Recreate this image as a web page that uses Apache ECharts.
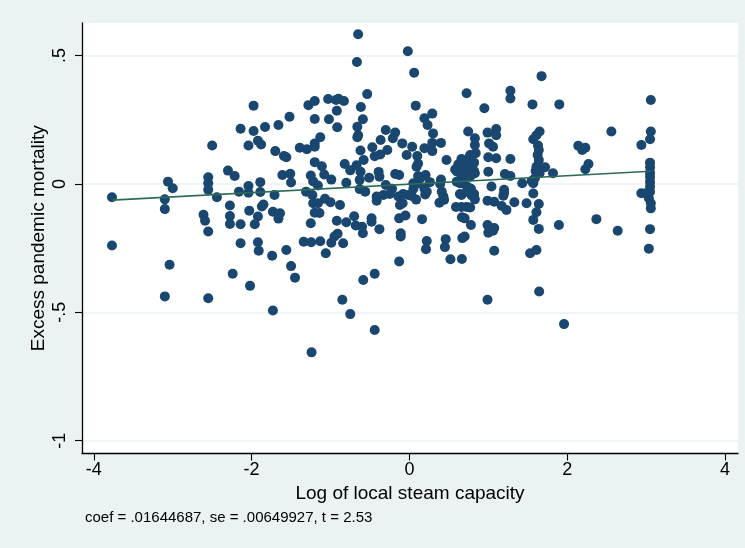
<!DOCTYPE html>
<html>
<head>
<meta charset="utf-8">
<title>Excess pandemic mortality and steam capacity</title>
<script src="https://cdn.jsdelivr.net/npm/echarts@6/dist/echarts.min.js"></script>
<style>
  html, body { margin: 0; padding: 0; background: #eaf2f3; }
  #chart { width: 745px; height: 548px; }
</style>
</head>
<body>
<div id="chart"></div>
<script>
  var obsLeft = [
    [-3.77,-0.052],[-3.77,-0.24],[-3.10,-0.06],[-3.10,-0.098],[-3.06,0.009],[-3.00,-0.017],[-3.04,-0.315],[-3.10,-0.438],
    [-2.55,0.026],[-2.55,0.003],[-2.55,-0.023],[-2.50,0.15],[-2.44,-0.052],[-2.61,-0.12],[-2.59,-0.143],[-2.55,-0.185],[-2.55,-0.445],
    [-2.30,0.052],[-2.215,0.031],[-2.275,-0.084],[-2.275,-0.125],[-2.275,-0.156],[-2.24,-0.35],
    [-2.14,0.215],[-1.975,0.305],[-1.975,0.206],[-1.83,0.222],[-1.66,0.23],[-2.04,0.15],[-1.92,0.168],[-1.88,0.154],[-1.70,0.128],
    [-2.04,-0.008],[-2.04,-0.034],[-1.89,0.007],[-1.89,-0.031],[-2.16,-0.03],[-1.71,-0.043],[-1.61,0.035],
    [-2.14,-0.157],[-2.03,-0.104],[-1.87,-0.088],[-1.85,-0.08],[-1.92,-0.127],[-1.96,-0.157],[-1.73,-0.108],[-1.64,-0.114],[-1.66,-0.135],
    [-2.14,-0.231],[-1.92,-0.227],[-1.91,-0.26],[-1.74,-0.28],[-2.02,-0.397],[-1.73,-0.493]
  ];
  var obsCentreLeft = [
    [-1.59,0.109],[-1.56,0.104],[-1.52,0.262],[-1.51,0.04],[-1.50,0.006],
    [-1.28,0.307],[-1.20,0.323],[-1.20,0.253],[-1.02,0.252],[-1.03,0.331],[-0.93,0.327],[-0.90,0.332],[-0.83,0.323],[-0.92,0.285],[-0.915,0.221],
    [-1.39,0.141],[-1.30,0.135],[-1.20,0.158],[-1.13,0.182],[-1.20,0.145],[-1.20,0.085],[-1.11,0.069],
    [-1.25,0.033],[-1.22,0.01],[-1.16,-0.006],[-1.08,0.037],[-0.99,0.017],
    [-1.31,-0.03],[-1.23,-0.043],[-1.22,-0.075],[-1.16,-0.075],[-1.20,-0.112],[-1.14,-0.113],[-1.07,-0.058],[-1.00,-0.071],
    [-1.25,-0.153],[-1.34,-0.225],[-1.245,-0.227],[-1.13,-0.223],[-1.06,-0.27],[-1.24,-0.656],
    [-1.56,-0.257],[-1.50,-0.32],[-1.45,-0.365],
    [-0.82,0.078],[-0.75,0.053],[-0.67,0.073],[-0.58,0.093],[-0.62,0.048],
    [-0.80,0.005],[-0.63,0.016],[-0.56,-0.03],[-0.63,-0.02],[-0.51,0.024],
    [-0.65,0.583],[-0.665,0.475],[-0.535,0.35],[-0.615,0.30],[-0.59,0.252],[-0.66,0.223],[-0.65,0.19],[-0.66,0.182],[-0.62,0.13],
    [-0.88,-0.082],[-0.92,-0.143],[-0.80,-0.149],[-0.70,-0.126],[-0.68,-0.162],[-0.60,-0.167],[-0.59,-0.192],
    [-0.99,-0.229],[-0.95,-0.205],[-0.91,-0.194],[-0.84,-0.231],[-0.85,-0.451],[-0.75,-0.507],[-0.585,-0.374]
  ];
  var obsCentre = [
    [-0.47,0.143],[-0.44,0.108],[-0.37,0.115],[-0.30,0.21],[-0.18,0.20],[-0.21,0.178],[-0.365,0.171],[-0.28,0.132],[-0.09,0.158],[-0.035,0.113],
    [-0.39,0.047],[-0.38,0.028],[-0.18,0.039],[-0.13,0.035],[-0.30,-0.004],[-0.22,-0.019],[-0.02,0.517],
    [-0.48,-0.134],[-0.48,-0.147],[-0.38,-0.176],[-0.44,-0.35],[-0.44,-0.569],[-0.13,-0.302],[-0.11,-0.192],[-0.11,-0.205],[-0.13,-0.134],[-0.05,-0.123],
    [-0.415,-0.049],[-0.415,-0.065],[-0.33,-0.043],[-0.25,-0.039],[-0.14,-0.049],[-0.12,-0.082],[-0.086,-0.075],[-0.08,-0.039],[-0.015,-0.043],
    [0.06,0.433],[0.08,0.305],[0.19,0.256],[0.29,0.274],[0.23,0.23],[0.30,0.197],[0.29,0.16],[0.40,0.16],[0.035,0.145],[0.19,0.139],[0.29,0.128],
    [0.10,0.109],[0.11,0.08],[0.09,0.067],[0.47,0.093],[0.11,0.031],[0.205,0.035],[0.11,0.003],[0.05,0.003],[0.26,0.007],[0.39,0.0],[0.40,0.017],[0.14,0.022],
    [0.05,-0.019],[0.03,-0.047],[0.085,-0.061],[0.19,-0.019],[0.20,-0.041],[0.22,-0.03],[0.43,-0.048],[0.44,-0.062],[0.38,-0.073],[0.41,-0.03],
    [0.16,-0.137],[0.22,-0.222],[0.21,-0.254],[0.46,-0.215],[0.45,-0.246]
  ];
  var obsCentreRight = [
    [0.725,0.353],[0.745,0.204],[0.83,0.178],[0.83,0.152],[0.84,0.12],[0.77,0.113],
    [0.58,0.056],[0.62,0.077],[0.66,0.097],[0.70,0.083],[0.74,0.097],[0.77,0.077],[0.82,0.083],[0.66,0.087],[0.70,0.067],[0.66,0.035],
    [0.64,0.003],[0.725,0.028],[0.83,0.042],[0.60,0.049],[0.74,0.042],[0.68,0.022],[0.77,0.029],[0.82,0.05],[0.60,0.009],[0.68,0.002],
    [0.74,-0.012],[0.78,-0.019],[0.82,-0.039],[0.83,-0.06],[0.79,-0.045],[0.64,-0.039],[0.66,-0.043],[0.725,-0.03],
    [0.59,-0.09],[0.66,-0.09],[0.725,-0.09],[0.77,-0.092],[0.665,-0.13],[0.70,-0.134],[0.78,-0.16],[0.67,-0.211],[0.70,-0.205],[0.52,-0.293],[0.665,-0.292],
    [0.95,0.295],[1.28,0.363],[1.28,0.333],[0.99,0.20],[1.10,0.214],[1.10,0.19],[1.01,0.158],[1.06,0.145],[1.00,0.104],[1.10,0.10],[1.28,0.097],
    [1.00,0.048],[1.21,0.039],[1.28,0.031],[1.43,0.003],[1.04,-0.01],[1.20,-0.023],[1.19,-0.046],[0.99,-0.065],[1.075,-0.069],[1.20,-0.036],[1.17,-0.086],[1.23,-0.101],[1.33,-0.071],
    [0.99,-0.16],[1.075,-0.172],[1.06,-0.182],[1.00,-0.19],[1.075,-0.26],[0.99,-0.451]
  ];
  var obsRight = [
    [1.675,0.42],[1.56,0.31],[1.90,0.31],[1.65,0.204],[1.61,0.19],[1.57,0.174],[1.63,0.15],[1.64,0.132],[1.625,0.113],[1.64,0.093],
    [1.61,0.067],[1.72,0.065],[1.65,0.042],[1.59,0.022],[1.82,0.042],[1.57,0.003],[1.55,0.012],[1.60,0.05],
    [1.57,-0.037],[1.485,-0.075],[1.64,-0.078],[1.61,-0.11],[1.57,-0.14],[1.64,-0.175],[1.895,-0.16],[1.53,-0.27],[1.61,-0.257],[1.645,-0.419],[1.96,-0.546],
    [2.14,0.149],[2.23,0.141],[2.19,0.132],[2.27,0.078],[2.23,0.057],[2.56,0.204],[2.94,0.152],[2.37,-0.137],[2.64,-0.182],
    [3.06,0.327],[3.06,0.204],[3.05,0.174],[3.05,0.083],[3.05,0.065],[3.05,0.044],[3.05,0.028],[3.05,0.008],[3.05,-0.01],[3.05,-0.03],
    [2.94,-0.036],[3.00,-0.036],[3.035,-0.056],[3.06,-0.075],[3.06,-0.095],[3.05,-0.176],[3.035,-0.252]
  ];

  // fitted line (coef from the note, intercept)
  var coef = 0.01644687;
  var intercept = -0.001;
  var noteText = 'coef = .01644687, se = .00649927, t = 2.53';

  var xTickVals = [-4, -2, 0, 2, 4];
  var yTickVals = [-1, -0.5, 0, 0.5];
  var yTickText = ['-1', '-.5', '0', '.5'];

  var allObs = obsLeft.concat(obsCentreLeft, obsCentre, obsCentreRight, obsRight);
  var xs = allObs.map(function (d) { return d[0]; });
  var xLo = Math.min.apply(null, xs), xHi = Math.max.apply(null, xs);
  var fitLine = [[xLo, intercept + coef * xLo], [xHi, intercept + coef * xHi]];

  var font = 'Liberation Sans, Arial, Helvetica, sans-serif';

  var chart = echarts.init(document.getElementById('chart'));
  chart.setOption({
    animation: false,
    backgroundColor: '#eaf2f3',
    grid: {
      left: 82, right: 7, top: 23, bottom: 94.5,
      show: true, backgroundColor: '#ffffff', borderWidth: 0,
      containLabel: false, outerBoundsMode: 'none'
    },
    xAxis: {
      type: 'value', min: -4.15, max: 4.165,
      name: 'Log of local steam capacity', nameLocation: 'middle', nameGap: 31, nameMoveOverlap: false,
      nameTextStyle: { fontSize: 19, color: '#000', fontFamily: font },
      axisLine: { onZero: false, lineStyle: { color: '#000', width: 1.3 } },
      axisTick: { show: true, length: 7, customValues: xTickVals, lineStyle: { color: '#000', width: 1.1 } },
      axisLabel: { customValues: xTickVals, margin: 8, fontSize: 18, color: '#000', fontFamily: font,
        formatter: function (v) { return String(v); } },
      splitLine: { show: false }
    },
    yAxis: {
      type: 'value', min: -1.05, max: 0.627,
      name: 'Excess pandemic mortality', nameLocation: 'middle', nameGap: 34, nameRotate: 90, nameMoveOverlap: false,
      nameTextStyle: { fontSize: 19, color: '#000', fontFamily: font },
      axisLine: { show: true, onZero: false, lineStyle: { color: '#000', width: 1.3 } },
      axisTick: { show: true, length: 7, customValues: yTickVals, lineStyle: { color: '#000', width: 1.1 } },
      axisLabel: { customValues: yTickVals, rotate: 90, margin: 13, fontSize: 18, color: '#000', fontFamily: font,
        formatter: function (v) {
          var i = yTickVals.indexOf(v);
          return i >= 0 ? yTickText[i] : '';
        } },
      splitLine: { show: true, lineStyle: { color: '#eaf0f3', width: 1.6 } }
    },
    graphic: [{
      type: 'text', left: 85, top: 510,
      style: { text: noteText, fontSize: 15, fill: '#000', fontFamily: font }
    }],
    series: [{
      type: 'scatter',
      data: allObs,
      symbol: 'circle',
      symbolSize: 10,
      itemStyle: { color: '#1a476f', opacity: 1 },
      z: 2
    }, {
      type: 'line',
      data: fitLine,
      showSymbol: false,
      lineStyle: { color: '#2d6b57', width: 1.6 },
      z: 3
    }]
  });
</script>
</body>
</html>
